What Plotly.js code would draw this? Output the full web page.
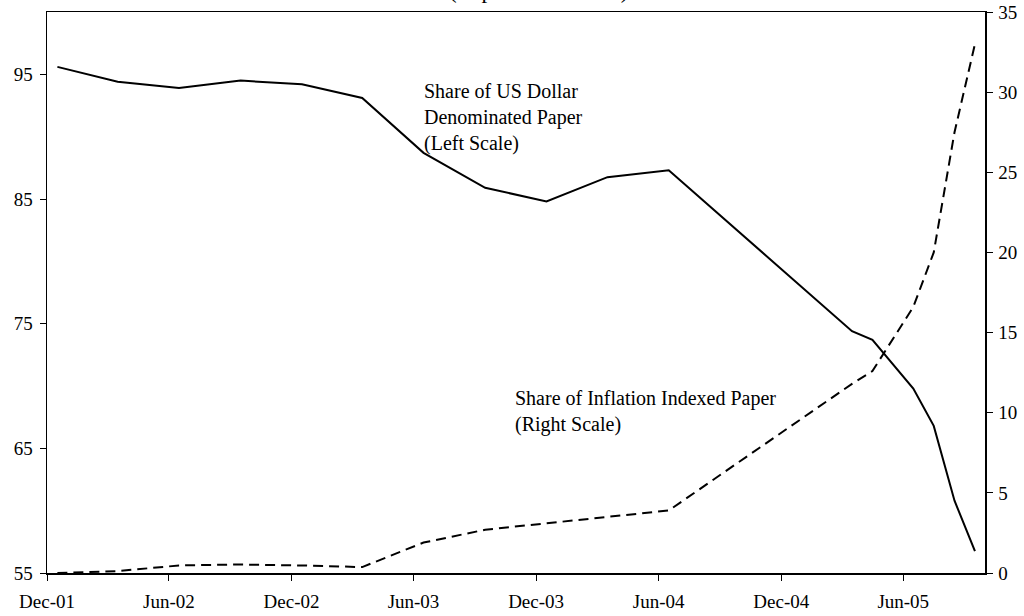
<!DOCTYPE html>
<html>
<head>
<meta charset="utf-8">
<script src="https://cdn.plot.ly/plotly-3.0.1.min.js"></script>
<style>
  html, body { margin: 0; padding: 0; background: #fff; }
  #chart { width: 1024px; height: 616px; }
</style>
</head>
<body>
<div id="chart"></div>
<script>
// Observation months (each point is drawn in the middle of its month)
const months = ['2001-12','2002-03','2002-06','2002-09','2002-12','2003-03','2003-06','2003-09',
                '2003-12','2004-03','2004-06','2005-03','2005-04','2005-06','2005-07','2005-08','2005-09'];
// Share of US Dollar denominated paper (left scale, percent)
const usdShare = [95.6, 94.4, 93.9, 94.5, 94.2, 93.1, 88.7, 85.9,
                  84.8, 86.75, 87.3, 74.4, 73.7, 69.8, 66.8, 60.8, 56.75];
// Share of inflation indexed paper (right scale, percent)
const inflationShare = [0.0, 0.12, 0.47, 0.53, 0.47, 0.37, 1.9, 2.7,
                        3.1, 3.5, 3.9, 11.8, 12.6, 16.6, 20.0, 27.5, 33.0];
// X axis tick positions and labels
const xTickVals = ['2001-12-01','2002-06-01','2002-12-01','2003-06-01','2003-12-01','2004-06-01','2004-12-01','2005-06-01'];
const xTickText = ['Dec-01','Jun-02','Dec-02','Jun-03','Dec-03','Jun-04','Dec-04','Jun-05'];
const leftTicks = [55, 65, 75, 85, 95];
const rightTicks = [0, 5, 10, 15, 20, 25, 30, 35];

const FONT = 'Liberation Serif, Times New Roman, serif';

const traces = [
  {
    x: months, y: usdShare, type: 'scatter', mode: 'lines',
    xperiod: 'M1', xperiodalignment: 'middle',
    line: { color: '#000', width: 2 }, yaxis: 'y', name: 'USD'
  },
  {
    x: months, y: inflationShare, type: 'scatter', mode: 'lines',
    xperiod: 'M1', xperiodalignment: 'middle',
    line: { color: '#000', width: 2, dash: '10px,6px' }, yaxis: 'y2', name: 'Inflation'
  }
];

const layout = {
  width: 1024, height: 616,
  margin: { l: 47, r: 39, t: 12, b: 42.5, pad: 0 },
  paper_bgcolor: '#fff', plot_bgcolor: '#fff',
  showlegend: false,
  font: { family: FONT, size: 19, color: '#000' },
  xaxis: {
    type: 'date',
    range: ['2001-12-01', '2005-10-01'],
    tickvals: xTickVals, ticktext: xTickText,
    ticks: 'outside', ticklen: 6, tickwidth: 1, tickcolor: '#000',
    ticklabelstandoff: 5,
    showline: true, linecolor: '#000', linewidth: 1.5, mirror: true,
    showgrid: false, zeroline: false,
    tickfont: { family: FONT, size: 19, color: '#000' }
  },
  yaxis: {
    range: [55, 100],
    tickvals: leftTicks,
    ticks: 'outside', ticklen: 6, tickwidth: 1, tickcolor: '#000',
    ticklabelstandoff: 3,
    showline: true, linecolor: '#000', linewidth: 1.5,
    showgrid: false, zeroline: false,
    tickfont: { family: FONT, size: 19, color: '#000' }
  },
  yaxis2: {
    overlaying: 'y', side: 'right',
    range: [0, 35],
    tickvals: rightTicks,
    ticks: 'outside', ticklen: 6, tickwidth: 1, tickcolor: '#000',
    ticklabelstandoff: 2,
    showline: true, linecolor: '#000', linewidth: 1.5,
    showgrid: false, zeroline: false,
    tickfont: { family: FONT, size: 19, color: '#000' }
  },
  annotations: [
    {
      text: '(In percent of total)', xref: 'paper', yref: 'paper',
      x: 0.5236, y: 1.0116, xanchor: 'center', yanchor: 'bottom',
      showarrow: false, font: { family: FONT, size: 23, color: '#000' }
    },
    {
      text: 'Share of US Dollar<br>Denominated Paper<br>(Left Scale)',
      xref: 'paper', yref: 'paper', x: 0.3997, y: 0.8825,
      xanchor: 'left', yanchor: 'top', align: 'left',
      showarrow: false, font: { family: FONT, size: 20, color: '#000' }
    },
    {
      text: 'Share of Inflation Indexed Paper<br>(Right Scale)',
      xref: 'paper', yref: 'paper', x: 0.4973, y: 0.3345,
      xanchor: 'left', yanchor: 'top', align: 'left',
      showarrow: false, font: { family: FONT, size: 20, color: '#000' }
    }
  ]
};

Plotly.newPlot('chart', traces, layout, { displayModeBar: false, staticPlot: true });
</script>
</body>
</html>
